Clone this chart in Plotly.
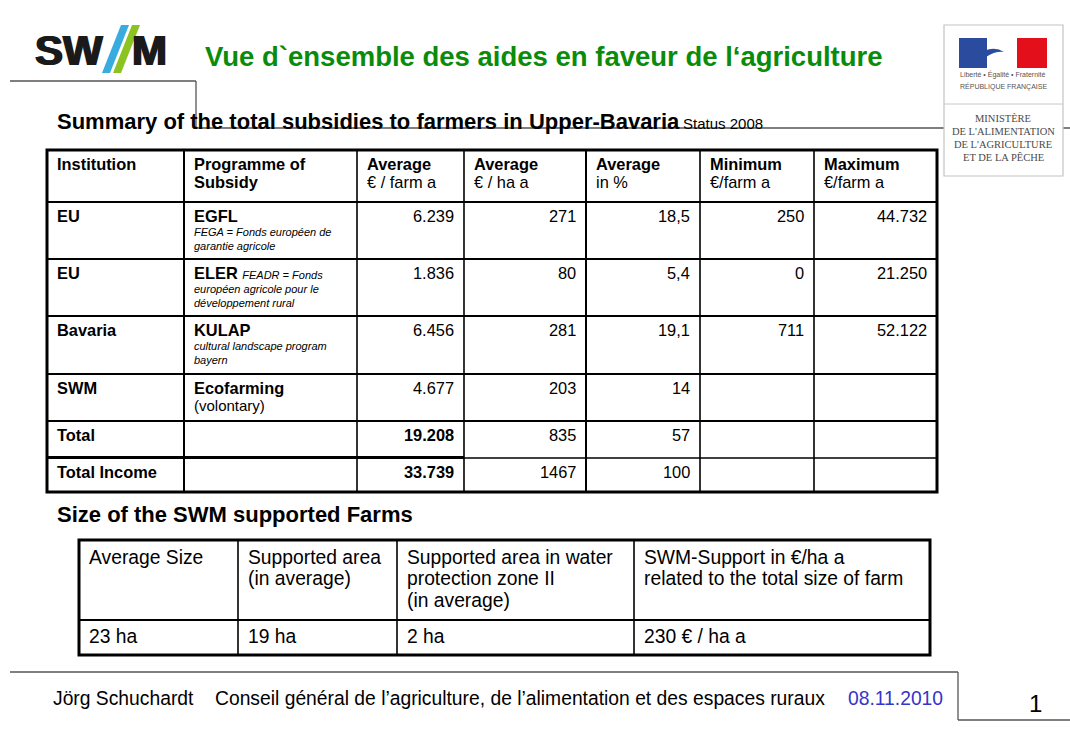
import plotly.graph_objects as go

# ---------------- data ----------------
title_text = "Vue d`ensemble des aides en faveur de l‘agriculture"
subtitle_text = "Summary of the total subsidies to farmers in Upper-Bavaria"
status_text = "Status 2008"
section2_text = "Size of the SWM supported Farms"

header_top = ["Institution", "Programme of", "Average", "Average", "Average", "Minimum", "Maximum"]
header_bottom = ["", "Subsidy", "€ / farm a", "€ / ha a", "in %", "€/farm a", "€/farm a"]
header_bottom_bold = [False, True, False, False, False, False, False]

institutions = ["EU", "EU", "Bavaria", "SWM", "Total", "Total Income"]
programmes = ["EGFL", "ELER", "KULAP", "Ecofarming", "", ""]
programme_inline = ["", "FEADR = Fonds", "", "", "", ""]
programme_notes = [
    ["FEGA = Fonds européen de", "garantie agricole"],
    ["européen agricole pour le", "développement rural"],
    ["cultural landscape program", "bayern"],
    [], [], [],
]
programme_remarks = ["", "", "", "(volontary)", "", ""]
avg_eur_farm = ["6.239", "1.836", "6.456", "4.677", "19.208", "33.739"]
avg_eur_ha = ["271", "80", "281", "203", "835", "1467"]
avg_pct = ["18,5", "5,4", "19,1", "14", "57", "100"]
min_eur_farm = ["250", "0", "711", "", "", ""]
max_eur_farm = ["44.732", "21.250", "52.122", "", "", ""]
total_rows = [False, False, False, False, True, True]

size_headers = [
    ["Average Size"],
    ["Supported area", "(in average)"],
    ["Supported area in water", "protection zone II", "(in average)"],
    ["SWM-Support in €/ha a", "related to the total size of farm"],
]
size_values = ["23 ha", "19 ha", "2 ha", "230 € / ha a"]

footer_author = "Jörg Schuchardt"
footer_org = "Conseil général de l’agriculture, de l’alimentation et des espaces ruraux"
footer_date = "08.11.2010"
page_number = "1"

ministry_motto = ["Liberté • Égalité • Fraternité", "RÉPUBLIQUE FRANÇAISE"]
ministry_lines = ["MINISTÈRE", "DE L'ALIMENTATION", "DE L'AGRICULTURE", "ET DE LA PÊCHE"]

# ---------------- layout constants ----------------
W, H = 1070, 740
FONT = "Liberation Sans, Arial, Helvetica, sans-serif"
SERIF = "Liberation Serif, Times New Roman, serif"
GREEN = "#0A8C0A"
BLUE_DATE = "#3535C8"

col_edges = [47, 184, 357, 464, 586, 700, 814, 937]
row_edges = [150, 202, 259, 316, 374, 421, 458, 492]
size_col_edges = [79, 238, 397, 634, 930]
size_row_edges = [540, 620, 655]

ann = []
shapes = []


def txt(x, y, s, size, color="#000", anchor="left", bold=False, italic=False, family=FONT):
    if bold:
        s = f"<b>{s}</b>"
    if italic:
        s = f"<i>{s}</i>"
    ann.append(dict(x=x, y=y, xref="x", yref="y", text=s, showarrow=False,
                    xanchor=anchor, yanchor="middle", borderpad=0, borderwidth=0,
                    font=dict(size=size, color=color, family=family)))


def line(x0, y0, x1, y1, w, color="#000"):
    shapes.append(dict(type="line", x0=x0, y0=y0, x1=x1, y1=y1, xref="x", yref="y",
                       line=dict(color=color, width=w), layer="above"))


def path(p, fill, lc=None, lw=0):
    shapes.append(dict(type="path", path=p, xref="x", yref="y", fillcolor=fill,
                       line=dict(color=lc or fill, width=lw), layer="above"))


# ---------------- decoration lines ----------------
DEC = "#555555"
line(10, 81, 196, 81, 1.3, DEC)
line(196, 81, 196, 128, 1.3, DEC)
line(196, 128, W, 128, 1.3, DEC)
line(10, 672, 958, 672, 1.3, DEC)
line(958, 672, 958, 720, 1.3, DEC)
line(958, 720, W, 720, 1.3, DEC)

# ---------------- SWM logo ----------------
for dx in (0, 0.8, 1.6):
    txt(34 + dx, 50, "SW", 42, color="#1a1a1a", bold=True)
    txt(131 + dx, 50, "M", 42, color="#1a1a1a", bold=True)
path("M 102 73 L 110 73 L 129 25 L 121 25 Z", "#39ABDF")
path("M 113 73 L 121 73 L 140 25 L 132 25 Z", "#8CC320")

# ---------------- ministry logo ----------------
shapes.append(dict(type="rect", x0=944, x1=1063, y0=25, y1=176, xref="x", yref="y",
                   fillcolor="white", line=dict(color="#c4c4c4", width=1.2), layer="above"))
shapes.append(dict(type="rect", x0=959, x1=987, y0=38, y1=68, xref="x", yref="y",
                   fillcolor="#2B4C9E", line=dict(width=0), layer="above"))
shapes.append(dict(type="rect", x0=1017, x1=1047, y0=38, y1=68, xref="x", yref="y",
                   fillcolor="#E3101B", line=dict(width=0), layer="above"))
path("M 984 51 Q 995 46 1004 52 Q 995 51 986 57 Z", "#2B4C9E")
line(944, 104, 1063, 104, 1, "#c8c8c8")
for i, s in enumerate(ministry_motto):
    txt(1003, 74 + 12 * i, s, 7, color="#555", anchor="center")
for i, s in enumerate(ministry_lines):
    txt(1003, 118 + 13 * i, s, 10.5, color="#4a4a4a", anchor="center", family=SERIF)

# ---------------- titles ----------------
txt(205, 56, title_text, 27.5, color=GREEN, bold=True)
txt(57, 121, subtitle_text, 22, bold=True)
txt(683, 123, status_text, 15)
txt(57, 514, section2_text, 22, bold=True)

# ---------------- main table ----------------
TS = 16.4
for c in range(7):
    x = col_edges[c] + 10
    txt(x, row_edges[0] + 14, header_top[c], TS, bold=True)
    if header_bottom[c]:
        txt(x, row_edges[0] + 32, header_bottom[c], TS, bold=header_bottom_bold[c])

num_cols = [avg_eur_farm, avg_eur_ha, avg_pct, min_eur_farm, max_eur_farm]
for r in range(len(institutions)):
    top = row_edges[r + 1]
    y = top + 14
    txt(col_edges[0] + 10, y, institutions[r], TS, bold=True)
    if programmes[r]:
        s = f"<b>{programmes[r]}</b>"
        if programme_inline[r]:
            s += f" <i><span style='font-size:11px'>{programme_inline[r]}</span></i>"
        txt(col_edges[1] + 10, y, s, TS)
    for k, note in enumerate(programme_notes[r]):
        txt(col_edges[1] + 10, y + 16 + 14 * k, note, 11, italic=True)
    if programme_remarks[r]:
        txt(col_edges[1] + 10, y + 17, programme_remarks[r], 15)
    for j, col in enumerate(num_cols):
        v = col[r]
        if v:
            txt(col_edges[j + 3] - 10, y, v, TS, anchor="right",
                bold=(total_rows[r] and j == 0))

# main table grid
for i, xe in enumerate(col_edges[1:-1]):
    line(xe, row_edges[0], xe, row_edges[-1], 2 if i in (0, 3) else 1.6)
for ye in row_edges[1:-2]:
    line(col_edges[0], ye, col_edges[-1], ye, 2)
line(col_edges[0], row_edges[-2] - 0.5, col_edges[3], row_edges[-2] - 0.5, 3)
line(col_edges[3], row_edges[-2], col_edges[-1], row_edges[-2], 1.6)
shapes.append(dict(type="rect", x0=col_edges[0], x1=col_edges[-1], y0=row_edges[0], y1=row_edges[-1],
                   xref="x", yref="y", line=dict(color="#000", width=3), layer="above"))

# ---------------- size table ----------------
SS = 19.3
for c, lines_ in enumerate(size_headers):
    for k, s in enumerate(lines_):
        txt(size_col_edges[c] + 10, size_row_edges[0] + 17 + 21.5 * k, s, SS)
    txt(size_col_edges[c] + 10, size_row_edges[1] + 16, size_values[c], SS)
for xe in size_col_edges[1:-1]:
    line(xe, size_row_edges[0], xe, size_row_edges[-1], 1.6)
line(size_col_edges[0], size_row_edges[1], size_col_edges[-1], size_row_edges[1], 2)
shapes.append(dict(type="rect", x0=size_col_edges[0], x1=size_col_edges[-1], y0=size_row_edges[0],
                   y1=size_row_edges[-1], xref="x", yref="y", line=dict(color="#000", width=3), layer="above"))

# ---------------- footer ----------------
txt(53, 698, footer_author, 19.3)
txt(215, 698, footer_org, 19.3)
txt(848, 698, footer_date, 19.3, color=BLUE_DATE)
txt(1035, 703, page_number, 24, anchor="center")

fig = go.Figure(go.Scatter(x=[], y=[]))
fig.update_layout(
    width=W, height=H, margin=dict(l=0, r=0, t=0, b=0),
    paper_bgcolor="white", plot_bgcolor="white", showlegend=False,
    xaxis=dict(range=[0, W], visible=False, fixedrange=True),
    yaxis=dict(range=[H, 0], visible=False, fixedrange=True),
    shapes=shapes, annotations=ann,
)
fig.write_html("out.html", config={"displayModeBar": False},
               post_script="document.body.style.margin='0';document.body.style.overflow='hidden';")
